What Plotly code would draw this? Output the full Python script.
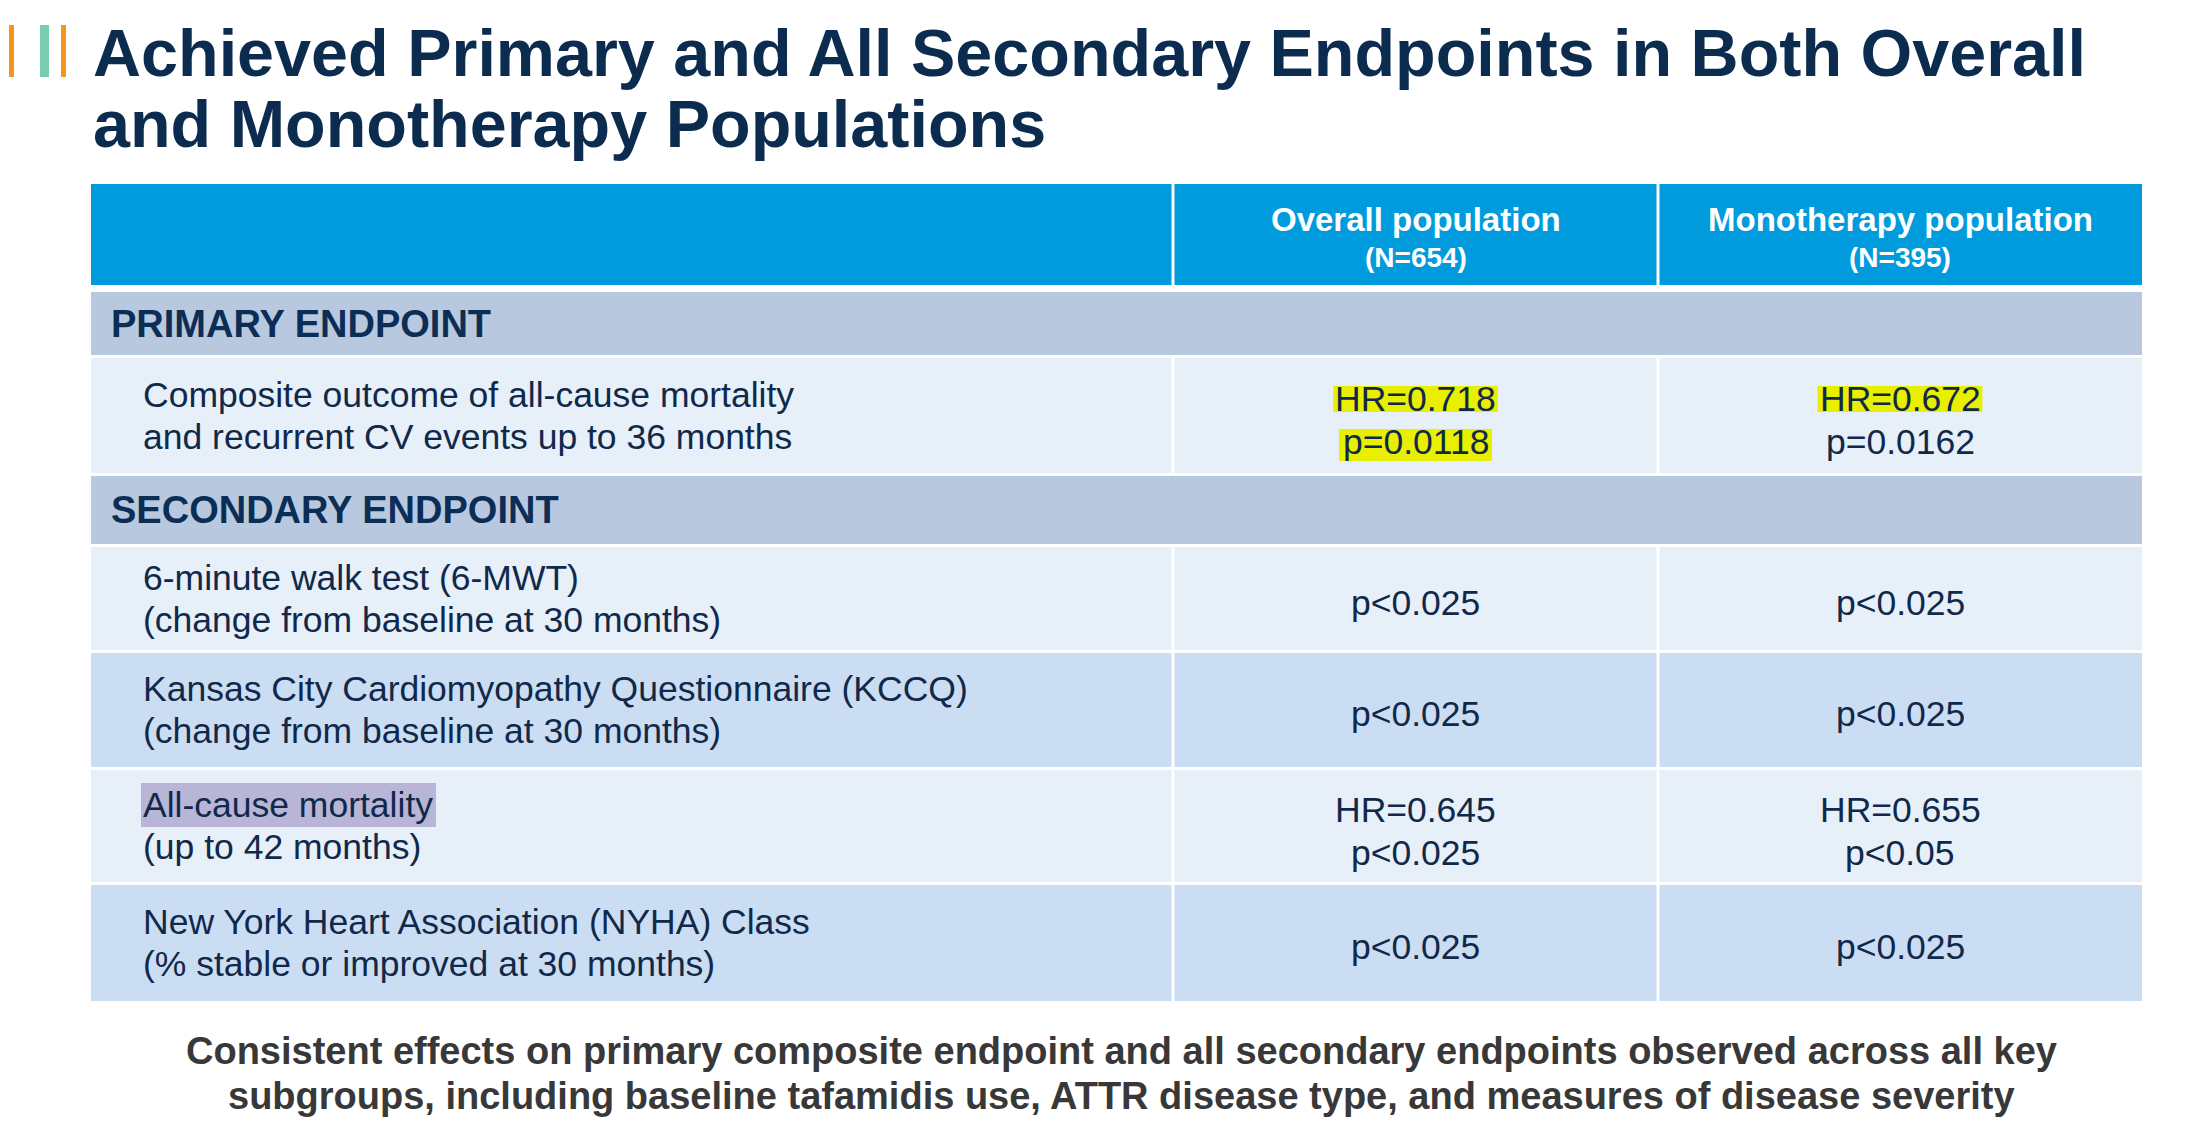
import plotly.graph_objects as go

# ---------------- data ----------------
title_lines = ["Achieved Primary and All Secondary Endpoints in Both Overall",
               "and Monotherapy Populations"]
column_titles = ["Overall population", "Monotherapy population"]
column_sizes = ["(N=654)", "(N=395)"]
section_titles = ["PRIMARY ENDPOINT", "SECONDARY ENDPOINT"]
endpoint_section = [0, 1, 1, 1, 1]
endpoint_line1 = ["Composite outcome of all-cause mortality",
                  "6-minute walk test (6-MWT)",
                  "Kansas City Cardiomyopathy Questionnaire (KCCQ)",
                  "All-cause mortality",
                  "New York Heart Association (NYHA) Class"]
endpoint_line2 = ["and recurrent CV events up to 36 months",
                  "(change from baseline at 30 months)",
                  "(change from baseline at 30 months)",
                  "(up to 42 months)",
                  "(% stable or improved at 30 months)"]
overall_hr = ["HR=0.718", "", "", "HR=0.645", ""]
overall_p = ["p=0.0118", "p<0.025", "p<0.025", "p<0.025", "p<0.025"]
mono_hr = ["HR=0.672", "", "", "HR=0.655", ""]
mono_p = ["p=0.0162", "p<0.025", "p<0.025", "p<0.05", "p<0.025"]
yellow_marks = [(0, 0, "hr"), (0, 0, "p"), (0, 1, "hr")]   # (row, column, line)
purple_marks = [3]                                           # label line 1 highlighted
footnote_lines = ["Consistent effects on primary composite endpoint and all secondary endpoints observed across all key",
                  "subgroups, including baseline tafamidis use, ATTR disease type, and measures of disease severity"]

# ---------------- layout / style ----------------
W, H = 2198, 1144
FONT = "Liberation Sans, Arial, sans-serif"
NAVY = "#0b2b4f"
TEXT = "#10294a"
BLUE = "#009bdd"
BAND = "#b8c9df"
LIGHT = "#e7eff8"
DARK = "#cbddf2"
YELLOW = "#e8f000"
PURPLE = "#b8b5d6"
GREY = "#383838"

TX0, TC1, TC2, TX1 = 91, 1173, 1658, 2142
HALF = 1.5
HEADER_TOP, HEADER_H, HEADER_GAP, ROW_GAP = 184, 101, 7, 3
BAND_H = [63, 68]
ROW_H = [115, 103, 114, 112, 116]
LABEL_X = 142
SECTION_X = 110
LABEL_PITCH, VALUE_PITCH, VALUE_SHIFT = 42, 43, 5
FS_BODY, FS_SECTION, FS_HEAD, FS_N, FS_TITLE, FS_FOOT = 35.5, 38, 33, 28, 66.5, 38

ARIAL = {'H': 722, 'R': 722, '=': 584, '.': 278, 'p': 556, 'A': 667, 'l': 222, '-': 333,
         'c': 500, 'a': 556, 'u': 556, 's': 500, 'e': 556, ' ': 278, 'm': 833, 'o': 556,
         'r': 333, 't': 278, 'i': 222, 'y': 500, '<': 584}


def text_width(s, size):
    return sum(ARIAL.get(ch, 556) for ch in s) * size / 1000.0


shapes = []
annotations = []


def rect(x0, x1, y0, y1, color):
    shapes.append(dict(type="rect", xref="x", yref="y", x0=x0, x1=x1, y0=y0, y1=y1,
                       fillcolor=color, line=dict(width=0), layer="below"))


def text(x, y, s, size, color, bold=False, anchor="left"):
    annotations.append(dict(x=x, y=y, xref="x", yref="y", text=("<b>%s</b>" % s) if bold else s,
                            showarrow=False, xanchor=anchor, yanchor="middle", borderpad=0,
                            font=dict(family=FONT, size=size, color=color)))


# title accent bars
for (bx0, bx1), col in zip([(9, 14), (40, 49), (61, 66)], ["#f7941d", "#7accb0", "#f7941d"]):
    rect(bx0, bx1, 25, 77, col)

# title
for k, line in enumerate(title_lines):
    text(92, 52.5 + 71 * k, line, FS_TITLE, NAVY, bold=True)

col_bounds = [(TX0, TC1 - HALF), (TC1 + HALF, TC2 - HALF), (TC2 + HALF, TX1)]
col_centers = [(TC1 + TC2) / 2.0, (TC2 + TX1) / 2.0]

# header
for cx0, cx1 in col_bounds:
    rect(cx0, cx1, HEADER_TOP, HEADER_TOP + HEADER_H, BLUE)
for c in range(2):
    text(col_centers[c], HEADER_TOP + 35, column_titles[c], FS_HEAD, "white", bold=True, anchor="center")
    text(col_centers[c], HEADER_TOP + 73, column_sizes[c], FS_N, "white", bold=True, anchor="center")

# body
y = HEADER_TOP + HEADER_H + HEADER_GAP
current = None
idx_in_section = 0
values = [(overall_hr, overall_p), (mono_hr, mono_p)]
for i in range(len(endpoint_line1)):
    s = endpoint_section[i]
    if s != current:
        current = s
        idx_in_section = 0
        rect(TX0, TX1, y, y + BAND_H[s], BAND)
        text(SECTION_X, y + BAND_H[s] / 2.0, section_titles[s], FS_SECTION, "#0c2d55", bold=True)
        y += BAND_H[s] + ROW_GAP
    fill = LIGHT if idx_in_section % 2 == 0 else DARK
    for cx0, cx1 in col_bounds:
        rect(cx0, cx1, y, y + ROW_H[i], fill)
    mid = y + ROW_H[i] / 2.0
    l1 = mid - LABEL_PITCH / 2.0
    l2 = mid + LABEL_PITCH / 2.0
    if i in purple_marks:
        w = text_width(endpoint_line1[i], FS_BODY)
        rect(LABEL_X - 1, LABEL_X + w + 4, l1 - 22, l1 + 22, PURPLE)
    text(LABEL_X, l1, endpoint_line1[i], FS_BODY, TEXT)
    text(LABEL_X, l2, endpoint_line2[i], FS_BODY, TEXT)
    for c in range(2):
        hr, p = values[c]
        cx = col_centers[c]
        if hr[i]:
            ys = {"hr": mid + VALUE_SHIFT - VALUE_PITCH / 2.0, "p": mid + VALUE_SHIFT + VALUE_PITCH / 2.0}
        else:
            ys = {"p": mid + VALUE_SHIFT - 1}
        for key, s_txt in (("hr", hr[i]), ("p", p[i])):
            if not s_txt:
                continue
            yy = ys[key]
            if (i, c, key) in yellow_marks:
                w = text_width(s_txt, FS_BODY)
                bottom = yy + (19 if "p" in s_txt else 13)
                rect(cx - w / 2.0 - 2, cx + w / 2.0 + 2, yy - 13, bottom, YELLOW)
            text(cx, yy, s_txt, FS_BODY, TEXT, anchor="center")
    y += ROW_H[i] + ROW_GAP
    idx_in_section += 1

# footnote
for k, line in enumerate(footnote_lines):
    text(1121, 1050.5 + 45 * k, line, FS_FOOT, GREY, bold=True, anchor="center")

fig = go.Figure()
fig.update_layout(
    width=W, height=H, margin=dict(l=0, r=0, t=0, b=0),
    paper_bgcolor="white", plot_bgcolor="white",
    xaxis=dict(range=[0, W], visible=False, fixedrange=True),
    yaxis=dict(range=[H, 0], visible=False, fixedrange=True),
    shapes=shapes, annotations=annotations, showlegend=False,
)
fig.write_html("out.html", config={"displayModeBar": False},
               post_script="document.body.style.margin='0';document.body.style.overflow='hidden';")
